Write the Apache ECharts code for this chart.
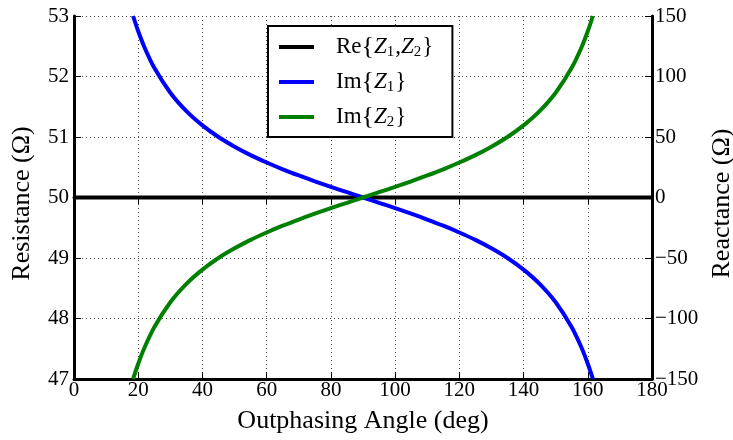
<!DOCTYPE html>
<html>
<head>
<meta charset="utf-8">
<script src="https://cdn.jsdelivr.net/npm/echarts@6/dist/echarts.min.js"></script>
<style>
    html, body { margin: 0; padding: 0; background: #fff; }
    #container { width: 733px; height: 440px; }
</style>
</head>
<body>
<div id="container"></div>
<script>
// angles in degrees (x values)
const angles = [18.4, 20, 22, 25, 30, 35, 40, 45, 50, 55, 60, 65, 70, 75, 80, 85, 90,
    95, 100, 105, 110, 115, 120, 125, 130, 135, 140, 145, 150, 155, 158, 160, 161.6];
// reactance values (ohm)
const imZ1 = [150, 137.4, 123.8, 107.2, 86.6, 71.4, 59.6, 50.0, 42.0, 35.0, 28.9, 23.3, 18.2, 13.4, 8.8, 4.4, 0,
    -4.4, -8.8, -13.4, -18.2, -23.3, -28.9, -35.0, -42.0, -50.0, -59.6, -71.4, -86.6, -107.2, -123.8, -137.4, -150];
const imZ2 = [-150, -137.4, -123.8, -107.2, -86.6, -71.4, -59.6, -50.0, -42.0, -35.0, -28.9, -23.3, -18.2, -13.4, -8.8, -4.4, 0,
    4.4, 8.8, 13.4, 18.2, 23.3, 28.9, 35.0, 42.0, 50.0, 59.6, 71.4, 86.6, 107.2, 123.8, 137.4, 150];
// resistance (ohm)
const reAngles = [0, 180];
const reZ = [50, 50];

const font = '"Liberation Serif", "DejaVu Serif", serif';

const pairs = (xs, ys) => xs.map((x, i) => [x, ys[i]]);

const rich = {
    n: { fontFamily: font, fontSize: 23, color: '#000', lineHeight: 26 },
    b: { fontFamily: font, fontSize: 26, color: '#000', lineHeight: 26 },
    i: { fontFamily: font, fontSize: 23, fontStyle: 'italic', color: '#000', lineHeight: 26 },
    s: { fontFamily: font, fontSize: 15, color: '#000', lineHeight: 26, padding: [10, 1, 0, 0] },
};

const legendNames = {
    re: 'Re{Z1,Z2}',
    im1: 'Im{Z1}',
    im2: 'Im{Z2}',
};
const legendLabels = {
    'Re{Z1,Z2}': '{n|Re}{b|\u007b}{i|Z}{s|1}{n|,}{i|Z}{s|2}{b|\u007d}',
    'Im{Z1}': '{n|Im}{b|\u007b}{i|Z}{s|1}{b|\u007d}',
    'Im{Z2}': '{n|Im}{b|\u007b}{i|Z}{s|2}{b|\u007d}',
};

const chart = echarts.init(document.getElementById('container'));

const tickIn = { show: true, inside: true, length: 7, lineStyle: { color: '#000', width: 1 } };
const dotted = { show: true, lineStyle: { color: '#444', type: [1, 3], width: 1 } };

chart.setOption({
    animation: false,
    grid: { left: 74, right: 81, top: 16, bottom: 61, outerBoundsMode: 'none' },
    legend: {
        orient: 'vertical',
        left: 268,
        top: 26,
        padding: [8, 19, 7, 11],
        itemGap: 9,
        itemWidth: 35,
        itemHeight: 26,
        backgroundColor: '#fff',
        borderColor: '#000',
        borderWidth: 2,
        borderRadius: 0,
        icon: 'path://M0,11 L35,11 L35,15 L0,15 Z',
        data: [legendNames.re, legendNames.im1, legendNames.im2],
        formatter: (name) => legendLabels[name],
        textStyle: { fontFamily: font, fontSize: 23, color: '#000', rich: rich, padding: [0, 0, 0, 17] },
    },
    xAxis: [{
        type: 'value',
        min: 0,
        max: 180,
        interval: 20,
        name: 'Outphasing Angle (deg)',
        nameLocation: 'middle',
        nameGap: 29,
        nameTextStyle: { fontFamily: font, fontSize: 26, color: '#000' },
        axisLine: { show: true, onZero: false, lineStyle: { color: '#000', width: 3 } },
        axisTick: tickIn,
        axisLabel: { fontFamily: font, fontSize: 21, color: '#000', margin: 1 },
        splitLine: dotted,
    }, {
        type: 'value',
        position: 'top',
        min: 0,
        max: 180,
        interval: 20,
        axisLine: { show: true, lineStyle: { color: '#000', width: 3 } },
        axisTick: tickIn,
        axisLabel: { show: false },
        splitLine: { show: false },
    }],
    yAxis: [{
        type: 'value',
        min: 47,
        max: 53,
        interval: 1,
        name: 'Resistance (Ω)',
        nameLocation: 'middle',
        nameGap: 39,
        nameTextStyle: { fontFamily: font, fontSize: 26, color: '#000', padding: [0, 12, 0, 0] },
        axisLine: { show: true, onZero: false, lineStyle: { color: '#000', width: 3 } },
        axisTick: tickIn,
        axisLabel: { fontFamily: font, fontSize: 21, color: '#000', margin: 5 },
        splitLine: dotted,
    }, {
        type: 'value',
        min: -150,
        max: 150,
        interval: 50,
        position: 'right',
        name: 'Reactance (Ω)',
        nameLocation: 'middle',
        nameGap: 55,
        nameRotate: 90,
        nameTextStyle: { fontFamily: font, fontSize: 26, color: '#000', padding: [0, 12, 0, 0] },
        axisLine: { show: true, onZero: false, lineStyle: { color: '#000', width: 3 } },
        axisTick: tickIn,
        axisLabel: {
            fontFamily: font, fontSize: 21, color: '#000', margin: 3,
            formatter: (v) => (v < 0 ? '\u2212' + Math.abs(v) : String(v)),
        },
        splitLine: { show: false },
    }],
    series: [{
        name: legendNames.re,
        type: 'line',
        xAxisIndex: 0,
        yAxisIndex: 0,
        data: pairs(reAngles, reZ),
        showSymbol: false,
        lineStyle: { color: '#000', width: 4 },
        itemStyle: { color: '#000' },
        z: 3,
    }, {
        name: legendNames.im1,
        type: 'line',
        xAxisIndex: 0,
        yAxisIndex: 1,
        data: pairs(angles, imZ1),
        smooth: 0.3,
        showSymbol: false,
        lineStyle: { color: '#0000ff', width: 4 },
        itemStyle: { color: '#0000ff' },
        z: 4,
    }, {
        name: legendNames.im2,
        type: 'line',
        xAxisIndex: 0,
        yAxisIndex: 1,
        data: pairs(angles, imZ2),
        smooth: 0.3,
        showSymbol: false,
        lineStyle: { color: '#008000', width: 4 },
        itemStyle: { color: '#008000' },
        z: 5,
    }],
});
</script>
</body>
</html>
